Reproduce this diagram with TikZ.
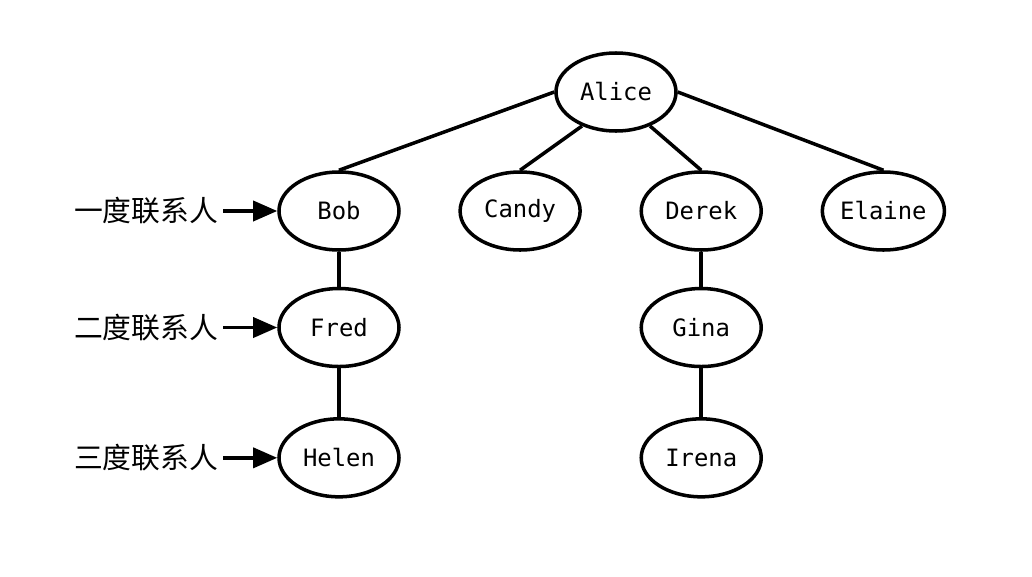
\documentclass[tikz,border=0pt]{standalone}
\usepackage{fontspec}
\setmonofont{DejaVu Sans Mono}
\newfontfamily\cjk{Noto Sans CJK SC}
\usetikzlibrary{positioning,shapes,arrows.meta}

\begin{document}
\begin{tikzpicture}[
    person/.style={draw, line width=2.5pt, fill=white, ellipse, minimum width=3.0cm, minimum height=1.95cm, inner sep=0pt, font=\ttfamily\fontsize{17}{20}\selectfont},
    degree/.style={font=\cjk\fontsize{20.5}{24}\selectfont},
    link/.style={line width=2.5pt},
    arrow/.style={-{Triangle[length=0.6cm, width=0.5cm]}, line width=2.5pt}
]
    \useasboundingbox (0,0) rectangle (25.8,-14.4);

    % People
    \node[person] (alice) at (15.4,-2.3) {Alice};
    \node[person] (bob) at (8.475,-5.275) {Bob};
    \node[person, right=1.44cm of bob] (candy) {Candy};
    \node[person, right=1.44cm of candy] (derek) {Derek};
    \node[person, right=1.44cm of derek] (elaine) {Elaine};
    \node[person, below=0.875cm of bob] (fred) {Fred};
    \node[person, below=1.22cm of fred] (helen) {Helen};
    \node[person, below=0.875cm of derek] (gina) {Gina};
    \node[person, below=1.22cm of gina] (irena) {Irena};

    % Degree labels
    \node[degree, left=1.35cm of bob] (first) {一度联系人};
    \node[degree, left=1.35cm of fred] (second) {二度联系人};
    \node[degree, left=1.35cm of helen] (third) {三度联系人};

    % Links
    \draw[link] (alice.west) -- (bob.north);
    \draw[link] (alice.-135) -- (candy.north);
    \draw[link] (alice.-45) -- (derek.north);
    \draw[link] (alice.east) -- (elaine.north);
    \draw[link] (bob) -- (fred);
    \draw[link] (fred) -- (helen);
    \draw[link] (derek) -- (gina);
    \draw[link] (gina) -- (irena);

    % Arrows
    \draw[arrow] (first) -- (bob);
    \draw[arrow] (second) -- (fred);
    \draw[arrow] (third) -- (helen);
\end{tikzpicture}
\end{document}
